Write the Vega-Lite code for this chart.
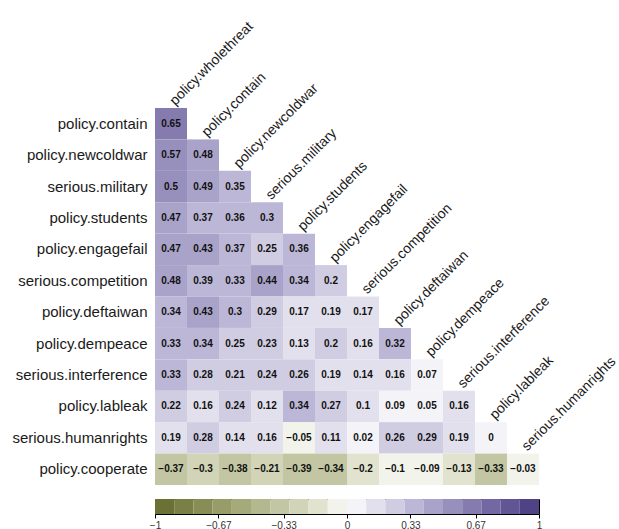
{
  "$schema": "https://vega.github.io/schema/vega-lite/v6.json",
  "padding": {"left": 11, "top": 19, "right": 0, "bottom": 0},
  "background": "white",
  "config": {
    "font": "Liberation Sans",
    "view": {"stroke": null}
  },
  "datasets": {
    "cor": [
      {"row": "policy.contain", "col": "policy.wholethreat", "r": 0.65},
      {"row": "policy.newcoldwar", "col": "policy.wholethreat", "r": 0.57},
      {"row": "policy.newcoldwar", "col": "policy.contain", "r": 0.48},
      {"row": "serious.military", "col": "policy.wholethreat", "r": 0.5},
      {"row": "serious.military", "col": "policy.contain", "r": 0.49},
      {"row": "serious.military", "col": "policy.newcoldwar", "r": 0.35},
      {"row": "policy.students", "col": "policy.wholethreat", "r": 0.47},
      {"row": "policy.students", "col": "policy.contain", "r": 0.37},
      {"row": "policy.students", "col": "policy.newcoldwar", "r": 0.36},
      {"row": "policy.students", "col": "serious.military", "r": 0.3},
      {"row": "policy.engagefail", "col": "policy.wholethreat", "r": 0.47},
      {"row": "policy.engagefail", "col": "policy.contain", "r": 0.43},
      {"row": "policy.engagefail", "col": "policy.newcoldwar", "r": 0.37},
      {"row": "policy.engagefail", "col": "serious.military", "r": 0.25},
      {"row": "policy.engagefail", "col": "policy.students", "r": 0.36},
      {"row": "serious.competition", "col": "policy.wholethreat", "r": 0.48},
      {"row": "serious.competition", "col": "policy.contain", "r": 0.39},
      {"row": "serious.competition", "col": "policy.newcoldwar", "r": 0.33},
      {"row": "serious.competition", "col": "serious.military", "r": 0.44},
      {"row": "serious.competition", "col": "policy.students", "r": 0.34},
      {"row": "serious.competition", "col": "policy.engagefail", "r": 0.2},
      {"row": "policy.deftaiwan", "col": "policy.wholethreat", "r": 0.34},
      {"row": "policy.deftaiwan", "col": "policy.contain", "r": 0.43},
      {"row": "policy.deftaiwan", "col": "policy.newcoldwar", "r": 0.3},
      {"row": "policy.deftaiwan", "col": "serious.military", "r": 0.29},
      {"row": "policy.deftaiwan", "col": "policy.students", "r": 0.17},
      {"row": "policy.deftaiwan", "col": "policy.engagefail", "r": 0.19},
      {"row": "policy.deftaiwan", "col": "serious.competition", "r": 0.17},
      {"row": "policy.dempeace", "col": "policy.wholethreat", "r": 0.33},
      {"row": "policy.dempeace", "col": "policy.contain", "r": 0.34},
      {"row": "policy.dempeace", "col": "policy.newcoldwar", "r": 0.25},
      {"row": "policy.dempeace", "col": "serious.military", "r": 0.23},
      {"row": "policy.dempeace", "col": "policy.students", "r": 0.13},
      {"row": "policy.dempeace", "col": "policy.engagefail", "r": 0.2},
      {"row": "policy.dempeace", "col": "serious.competition", "r": 0.16},
      {"row": "policy.dempeace", "col": "policy.deftaiwan", "r": 0.32},
      {"row": "serious.interference", "col": "policy.wholethreat", "r": 0.33},
      {"row": "serious.interference", "col": "policy.contain", "r": 0.28},
      {"row": "serious.interference", "col": "policy.newcoldwar", "r": 0.21},
      {"row": "serious.interference", "col": "serious.military", "r": 0.24},
      {"row": "serious.interference", "col": "policy.students", "r": 0.26},
      {"row": "serious.interference", "col": "policy.engagefail", "r": 0.19},
      {"row": "serious.interference", "col": "serious.competition", "r": 0.14},
      {"row": "serious.interference", "col": "policy.deftaiwan", "r": 0.16},
      {"row": "serious.interference", "col": "policy.dempeace", "r": 0.07},
      {"row": "policy.lableak", "col": "policy.wholethreat", "r": 0.22},
      {"row": "policy.lableak", "col": "policy.contain", "r": 0.16},
      {"row": "policy.lableak", "col": "policy.newcoldwar", "r": 0.24},
      {"row": "policy.lableak", "col": "serious.military", "r": 0.12},
      {"row": "policy.lableak", "col": "policy.students", "r": 0.34},
      {"row": "policy.lableak", "col": "policy.engagefail", "r": 0.27},
      {"row": "policy.lableak", "col": "serious.competition", "r": 0.1},
      {"row": "policy.lableak", "col": "policy.deftaiwan", "r": 0.09},
      {"row": "policy.lableak", "col": "policy.dempeace", "r": 0.05},
      {"row": "policy.lableak", "col": "serious.interference", "r": 0.16},
      {"row": "serious.humanrights", "col": "policy.wholethreat", "r": 0.19},
      {"row": "serious.humanrights", "col": "policy.contain", "r": 0.28},
      {"row": "serious.humanrights", "col": "policy.newcoldwar", "r": 0.14},
      {"row": "serious.humanrights", "col": "serious.military", "r": 0.16},
      {"row": "serious.humanrights", "col": "policy.students", "r": -0.05},
      {"row": "serious.humanrights", "col": "policy.engagefail", "r": 0.11},
      {"row": "serious.humanrights", "col": "serious.competition", "r": 0.02},
      {"row": "serious.humanrights", "col": "policy.deftaiwan", "r": 0.26},
      {"row": "serious.humanrights", "col": "policy.dempeace", "r": 0.29},
      {"row": "serious.humanrights", "col": "serious.interference", "r": 0.19},
      {"row": "serious.humanrights", "col": "policy.lableak", "r": 0},
      {"row": "policy.cooperate", "col": "policy.wholethreat", "r": -0.37},
      {"row": "policy.cooperate", "col": "policy.contain", "r": -0.3},
      {"row": "policy.cooperate", "col": "policy.newcoldwar", "r": -0.38},
      {"row": "policy.cooperate", "col": "serious.military", "r": -0.21},
      {"row": "policy.cooperate", "col": "policy.students", "r": -0.39},
      {"row": "policy.cooperate", "col": "policy.engagefail", "r": -0.34},
      {"row": "policy.cooperate", "col": "serious.competition", "r": -0.2},
      {"row": "policy.cooperate", "col": "policy.deftaiwan", "r": -0.1},
      {"row": "policy.cooperate", "col": "policy.dempeace", "r": -0.09},
      {"row": "policy.cooperate", "col": "serious.interference", "r": -0.13},
      {"row": "policy.cooperate", "col": "policy.lableak", "r": -0.33},
      {"row": "policy.cooperate", "col": "serious.humanrights", "r": -0.03}
    ],
    "diag": [
      {"col": "policy.wholethreat", "row": "policy.contain"},
      {"col": "policy.contain", "row": "policy.newcoldwar"},
      {"col": "policy.newcoldwar", "row": "serious.military"},
      {"col": "serious.military", "row": "policy.students"},
      {"col": "policy.students", "row": "policy.engagefail"},
      {"col": "policy.engagefail", "row": "serious.competition"},
      {"col": "serious.competition", "row": "policy.deftaiwan"},
      {"col": "policy.deftaiwan", "row": "policy.dempeace"},
      {"col": "policy.dempeace", "row": "serious.interference"},
      {"col": "serious.interference", "row": "policy.lableak"},
      {"col": "policy.lableak", "row": "serious.humanrights"},
      {"col": "serious.humanrights", "row": "policy.cooperate"}
    ],
    "steps": [
      {"lo": -1.0, "hi": -0.9, "r": -0.95},
      {"lo": -0.9, "hi": -0.8, "r": -0.85},
      {"lo": -0.8, "hi": -0.7, "r": -0.75},
      {"lo": -0.7, "hi": -0.6, "r": -0.65},
      {"lo": -0.6, "hi": -0.5, "r": -0.55},
      {"lo": -0.5, "hi": -0.4, "r": -0.45},
      {"lo": -0.4, "hi": -0.3, "r": -0.35},
      {"lo": -0.3, "hi": -0.2, "r": -0.25},
      {"lo": -0.2, "hi": -0.1, "r": -0.15},
      {"lo": -0.1, "hi": 0.0, "r": -0.05},
      {"lo": 0.0, "hi": 0.1, "r": 0.05},
      {"lo": 0.1, "hi": 0.2, "r": 0.15},
      {"lo": 0.2, "hi": 0.3, "r": 0.25},
      {"lo": 0.3, "hi": 0.4, "r": 0.35},
      {"lo": 0.4, "hi": 0.5, "r": 0.45},
      {"lo": 0.5, "hi": 0.6, "r": 0.55},
      {"lo": 0.6, "hi": 0.7, "r": 0.65},
      {"lo": 0.7, "hi": 0.8, "r": 0.75},
      {"lo": 0.8, "hi": 0.9, "r": 0.85},
      {"lo": 0.9, "hi": 1.0, "r": 0.95}
    ]
  },
  "spacing": 12,
  "vconcat": [
    {
      "width": 384,
      "height": 377,
      "layer": [
        {
          "data": {"name": "cor"},
          "mark": {"type": "rect"},
          "encoding": {
            "x": {"field": "col", "type": "nominal", "axis": null,
                  "scale": {"paddingInner": 0, "paddingOuter": 0,
                            "domain": ["policy.wholethreat", "policy.contain", "policy.newcoldwar", "serious.military", "policy.students", "policy.engagefail", "serious.competition", "policy.deftaiwan", "policy.dempeace", "serious.interference", "policy.lableak", "serious.humanrights"]}},
            "y": {"field": "row", "type": "nominal",
                  "scale": {"paddingInner": 0, "paddingOuter": 0,
                            "domain": ["policy.contain", "policy.newcoldwar", "serious.military", "policy.students", "policy.engagefail", "serious.competition", "policy.deftaiwan", "policy.dempeace", "serious.interference", "policy.lableak", "serious.humanrights", "policy.cooperate"]},
                  "axis": {"title": null, "domain": false, "ticks": false, "labelFontSize": 15, "labelColor": "#1a1a1a", "labelPadding": 8, "labelFont": "Liberation Sans"}},
            "color": {"field": "r", "type": "quantitative", "legend": null,
                      "scale": {"type": "threshold",
                                "domain": [-0.9, -0.8, -0.7, -0.6, -0.5, -0.4, -0.3, -0.2, -0.1, 0, 0.1, 0.2, 0.3, 0.4, 0.5, 0.6, 0.7, 0.8, 0.9],
                                "range": ["#6b7035", "#7a7f45", "#888d56", "#979c68", "#a5aa7b", "#b4b88e", "#c3c6a2", "#d2d4b7", "#e2e3cf", "#f2f3ea", "#f4f3f8", "#e3e0ee", "#d0cce2", "#bcb7d6", "#aaa3c9", "#978fbc", "#857baf", "#7368a2", "#625596", "#4f4285"]}}
          }
        },
        {
          "data": {"name": "cor"},
          "mark": {"type": "text", "fontWeight": "bold", "fontSize": 10, "color": "#111111", "font": "Liberation Sans"},
          "encoding": {
            "x": {"field": "col", "type": "nominal"},
            "y": {"field": "row", "type": "nominal"},
            "text": {"field": "r", "type": "quantitative", "format": ".2~f"}
          }
        },
        {
          "data": {"name": "diag"},
          "mark": {"type": "text", "angle": -45, "align": "left", "baseline": "alphabetic", "fontSize": 14, "color": "#1a1a1a", "font": "Liberation Sans", "dx": 0, "dy": -3},
          "encoding": {
            "x": {"field": "col", "type": "nominal", "bandPosition": 0.7},
            "y": {"field": "row", "type": "nominal", "bandPosition": 0},
            "text": {"field": "col", "type": "nominal"}
          }
        }
      ]
    },
    {
      "width": 384,
      "height": 15,
      "view": {"stroke": "black", "strokeWidth": 1},
      "data": {"name": "steps"},
      "mark": {"type": "rect"},
      "encoding": {
        "x": {"field": "lo", "type": "quantitative",
              "scale": {"domain": [-1, 1], "nice": false, "zero": false},
              "axis": {"title": null, "values": [-1, -0.67, -0.33, 0, 0.33, 0.67, 1], "format": ".2~f", "grid": false, "domain": false, "tickSize": 4, "tickColor": "#000000", "labelFontSize": 10, "labelColor": "#333333", "labelPadding": 2, "labelFont": "Liberation Sans", "labelFlush": false}},
        "x2": {"field": "hi"},
        "color": {"field": "r", "type": "quantitative", "legend": null,
                  "scale": {"type": "threshold",
                            "domain": [-0.9, -0.8, -0.7, -0.6, -0.5, -0.4, -0.3, -0.2, -0.1, 0, 0.1, 0.2, 0.3, 0.4, 0.5, 0.6, 0.7, 0.8, 0.9],
                            "range": ["#6b7035", "#7a7f45", "#888d56", "#979c68", "#a5aa7b", "#b4b88e", "#c3c6a2", "#d2d4b7", "#e2e3cf", "#f2f3ea", "#f4f3f8", "#e3e0ee", "#d0cce2", "#bcb7d6", "#aaa3c9", "#978fbc", "#857baf", "#7368a2", "#625596", "#4f4285"]}}
      }
    }
  ]
}
